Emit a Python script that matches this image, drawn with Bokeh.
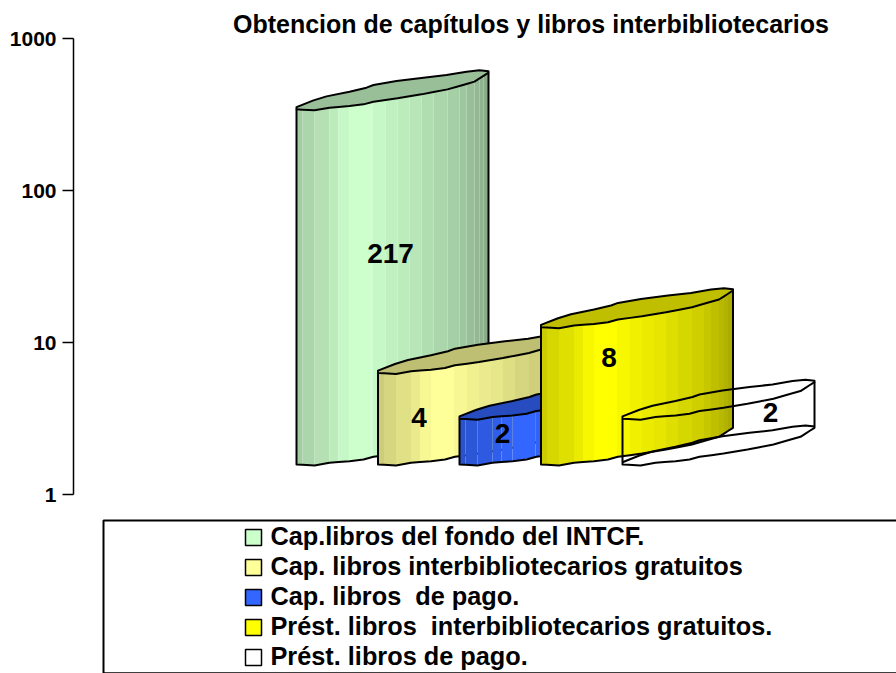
import numpy as np
from bokeh.embed import file_html
from bokeh.resources import INLINE
from bokeh.plotting import figure
from bokeh.models import Range1d, FixedTicker, BasicTickFormatter, Legend, LegendItem, Title, BoxAnnotation
from bokeh.core.properties import value as V

# data
names = ["Cap.libros del fondo del INTCF.",
         "Cap. libros interbibliotecarios gratuitos",
         "Cap. libros  de pago.",
         "Prést. libros  interbibliotecarios gratuitos.",
         "Prést. libros de pago."]
values = [217, 4, 2, 8, 2]
colors = [(204, 255, 204), (255, 255, 153), (51, 102, 255), (255, 255, 0), (255, 255, 255)]
title_text = "Obtencion de capítulos y libros interbibliotecarios"
decades = [1, 10, 100, 1000]

# layout of the drawing (pixels)
W, H = 896, 673
OX, OY = 0, 0
AX_X, AX_Y1, PX_DEC = 73.5, 494.0, 152.0
BAR_X0, BAR_STEP, BAR_W = 296, 81.5, 192
SHIFT = 30
label_dx = [94, 41, 43, 68, 148]
label_py = [253, 417, 433, 357, 412]
u_bands = np.array([0, 6, 18, 33, 42, 53, 76, 89, 101, 113, 125, 137, 151, 163, 170, 178, 183, 187, 192]) / 192
shades = [.80, .84, .88, .92, .97, 1.0, .97, .94, .92, .90, .87, .84, .81, .78, .75, .72, .70, .67]
u_prof = np.array([0, 18, 33, 53, 67, 77, 101, 125, 151, 178, 192]) / 192
front = [0, -1, 1.7, 3.3, 5, 7.7, 11, 15, 20, 27.7, 36.7]
u_back = np.array([0, 17, 30, 53, 70, 77, 100, 127, 150, 170, 183, 192]) / 192
back = [2.3, 9, 13, 17.7, 21.7, 24.3, 28.3, 31.7, 34.3, 37.7, 39, 38]


def dec(px):
    """pixel offset upward expressed as a factor on the log axis"""
    return 10 ** (px / PX_DEC)


def ypx(py):
    return 10 ** ((AX_Y1 - py) / PX_DEC)


TOP_BORDER = int(38 - OY)
LEFT_BORDER = int(AX_X - OX)
p = figure(width=W, height=H, output_backend="svg", toolbar_location=None,
           y_axis_type="log",
           x_range=Range1d(LEFT_BORDER + OX, W + OX),
           y_range=Range1d(ypx(H + OY), ypx(TOP_BORDER + OY)),
           min_border_left=LEFT_BORDER, min_border_top=TOP_BORDER, min_border_right=0, min_border_bottom=0,
           outline_line_color=None, background_fill_color="white")
p.grid.visible = False
p.xaxis.visible = False
ax = p.yaxis[0]
ax.ticker = FixedTicker(ticks=decades)
ax.formatter = BasicTickFormatter()
ax.bounds = (1, 1000)
ax.major_tick_in = 0
ax.major_tick_out = 11
ax.minor_tick_line_color = None
ax.axis_line_color = "black"
ax.axis_line_width = 1.5
ax.major_tick_line_color = "black"
ax.major_tick_line_width = 1.5
ax.major_label_text_font = "Liberation Sans"
ax.major_label_text_font_style = "bold"
ax.major_label_text_font_size = "21px"
ax.major_label_standoff = 6
ax.major_label_text_color = "black"

p.add_layout(Title(text=title_text, align="left", offset=233 - AX_X, text_font="Liberation Sans",
                   text_font_style="bold", text_font_size="25px", text_color="black", standoff=2), "above")

def shade(c, f):
    return "#%02x%02x%02x" % tuple(int(round(v * f)) for v in c)

base_factor = dec(SHIFT)
for i, (val, col) in enumerate(zip(values, colors)):
    x0 = BAR_X0 + i * BAR_STEP
    ylow = base_factor
    yhigh = val * base_factor
    prof = lambda u: dec(np.interp(u, u_prof, front))
    bprof = lambda u: dec(np.interp(u, u_back, back))
    lineu = np.unique(np.concatenate([u_prof, u_bands]))
    backu = np.unique(u_back)
    lx = x0 + lineu * BAR_W
    bx = x0 + backu * BAR_W
    if i < 4:
        xs, ys, fc = [], [], []
        for a, b, s in zip(u_bands[:-1], u_bands[1:], shades):
            xa, xb = x0 + a * BAR_W, x0 + b * BAR_W
            xs.append([xa, xb, xb, xa])
            ys.append([ylow * prof(a), ylow * prof(b), yhigh * prof(b), yhigh * prof(a)])
            fc.append(shade(col, s))
        p.patches(xs, ys, fill_color=fc, line_color=None)
    # top ellipse
    tx = list(lx) + list(bx[::-1])
    ty = list(yhigh * prof(lineu)) + list(yhigh * bprof(backu)[::-1])
    p.patch(tx, ty, fill_color=None if i == 4 else shade(col, .75), line_color="black", line_width=2,
            line_join="round")
    # outline of the side
    ox = [lx[0]] + list(lx) + [lx[-1]]
    oy = [yhigh * prof(0)] + list(ylow * prof(lineu)) + [yhigh * prof(1)]
    p.line(ox, oy, line_color="black", line_width=2, line_join="round")
    if i == 4:
        p.line(bx, ylow * bprof(backu), line_color="black", line_width=2, line_join="round")

for i, val in enumerate(values):
    p.text([BAR_X0 + i * BAR_STEP + label_dx[i]], [ypx(label_py[i])], text=[str(val)],
           text_align="center", text_baseline="middle", text_font=V("Liberation Sans"),
           text_font_style="bold", text_font_size="28px", text_color="black")

box = BoxAnnotation(left=103, right=920, top=ypx(520), bottom=ypx(672.7), fill_color="white", fill_alpha=1,
                    line_color="black", line_width=2, level="overlay", line_alpha=1)
p.add_layout(box)

items = []
for n, c in zip(names, colors):
    r = p.quad(left=[np.nan], right=[np.nan], top=[np.nan], bottom=[np.nan], fill_color=shade(c, 1),
               line_color="black", line_width=1.5)
    items.append(LegendItem(label=n, renderers=[r]))
leg = Legend(items=items, location=(243 - AX_X, 2), orientation="vertical", border_line_color=None,
             background_fill_alpha=0, glyph_width=20, glyph_height=20, label_standoff=8, spacing=1,
             padding=0, margin=0, label_text_font="Liberation Sans", label_text_font_style="bold",
             label_text_font_size="25.3px", label_text_color="black", label_height=26)
p.add_layout(leg)

open("out.html", "w").write(file_html(p, INLINE))
